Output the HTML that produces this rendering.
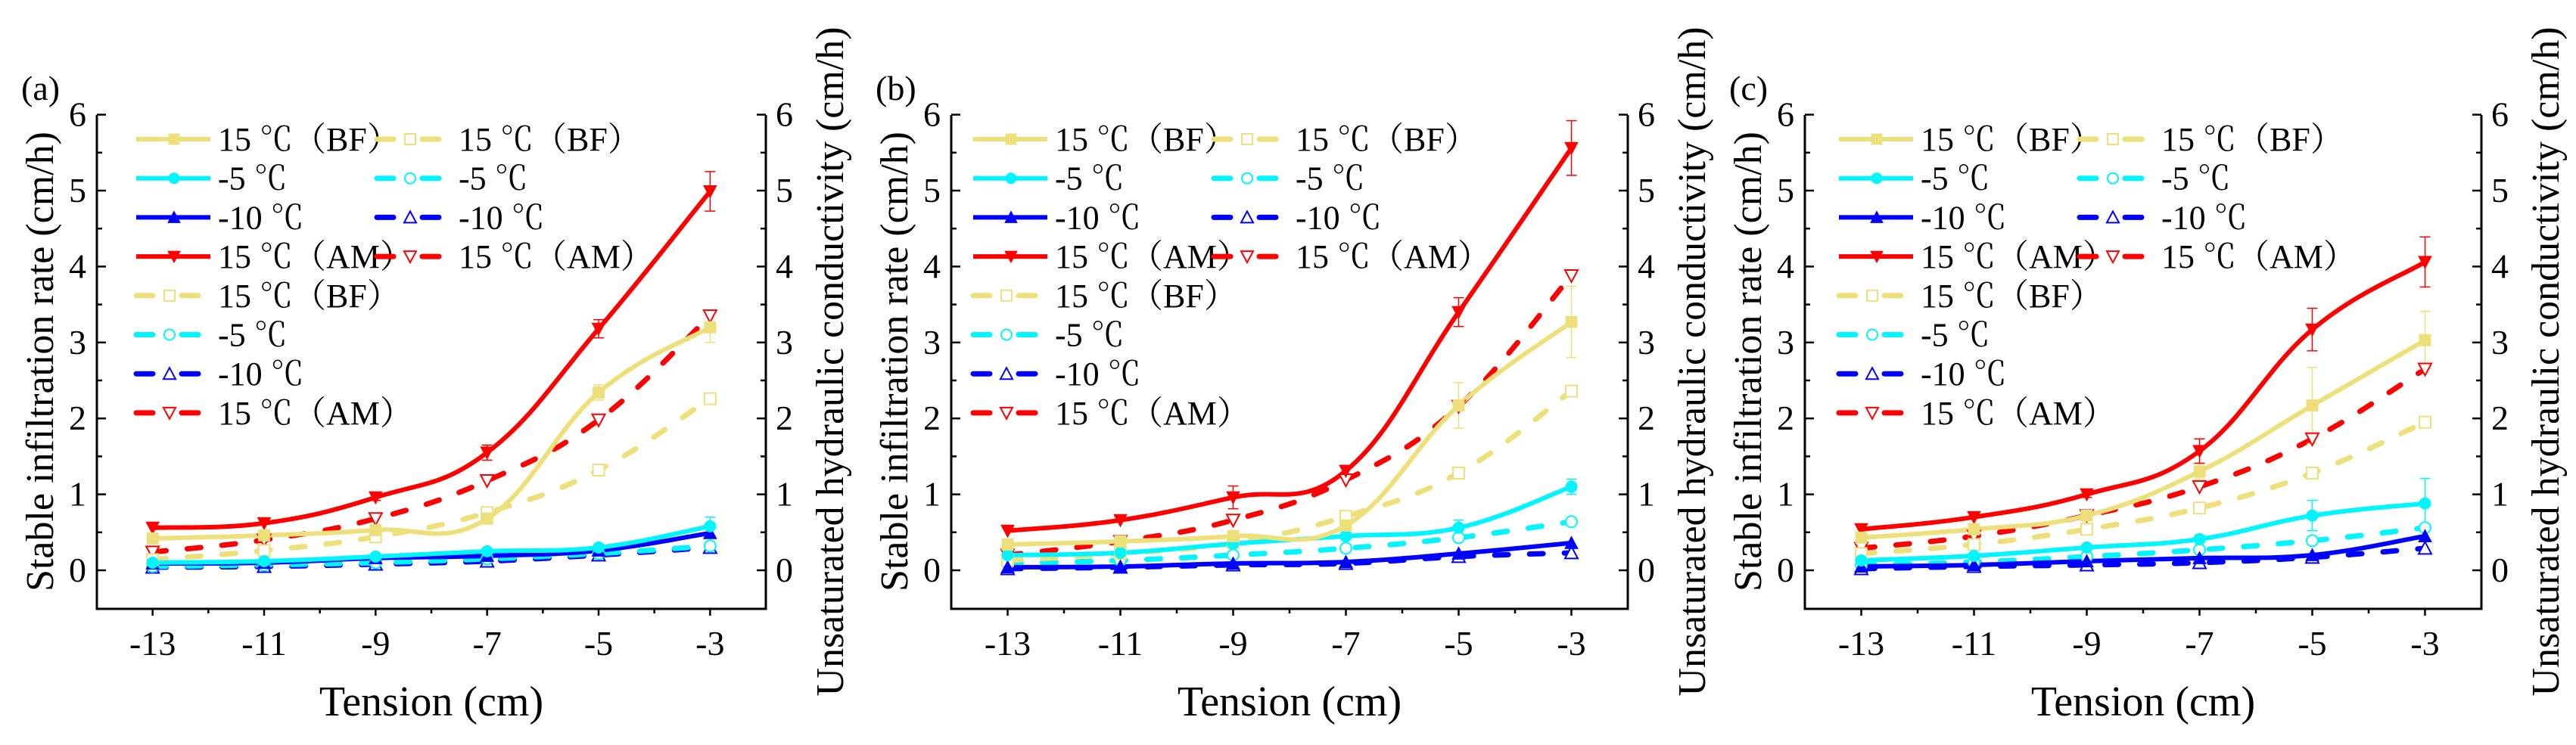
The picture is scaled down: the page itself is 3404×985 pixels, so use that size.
<!DOCTYPE html>
<html><head><meta charset="utf-8">
<style>
html,body{margin:0;padding:0;background:#fff;}
svg{display:block;}
svg text{font-family:"Liberation Serif","Times New Roman","Noto Serif CJK SC",serif;}
</style></head>
<body>
<svg id="chart" width="3404" height="985" viewBox="0 0 3404 985" xmlns="http://www.w3.org/2000/svg" font-family="Liberation Serif, Noto Serif CJK SC, serif"></svg>
<script>
const tensions = [-13, -11, -9, -7, -5, -3];
const xTickLabels = ["-13", "-11", "-9", "-7", "-5", "-3"];
const yTickLabels = ["0", "1", "2", "3", "4", "5", "6"];
const panelLabels = ["(a)", "(b)", "(c)"];
const legendLabels = ["15 ℃（BF）", "-5 ℃", "-10 ℃", "15 ℃（AM）"];

// Panel (a)
const aBF = [0.42, 0.46, 0.53, 0.68, 2.34, 3.2];
const aM5 = [0.1, 0.12, 0.18, 0.25, 0.3, 0.58];
const aM10 = [0.09, 0.1, 0.16, 0.19, 0.26, 0.49];
const aAM = [0.56, 0.62, 0.96, 1.55, 3.18, 4.99];
const aBFd = [0.14, 0.26, 0.44, 0.76, 1.32, 2.26];
const aM5d = [0.05, 0.07, 0.1, 0.15, 0.22, 0.32];
const aM10d = [0.04, 0.05, 0.08, 0.12, 0.2, 0.3];
const aAMd = [0.24, 0.4, 0.68, 1.18, 1.98, 3.35];
const aAMerr = [0, 0, 0.04, 0.1, 0.12, 0.26];
const aBFerr = [0, 0, 0, 0, 0.1, 0.2];
const aM5err = [0, 0, 0, 0.04, 0.03, 0.12];
// Panel (b)
const bBF = [0.34, 0.38, 0.45, 0.59, 2.17, 3.27];
const bM5 = [0.2, 0.23, 0.35, 0.45, 0.56, 1.1];
const bM10 = [0.04, 0.05, 0.09, 0.11, 0.22, 0.36];
const bAM = [0.52, 0.66, 0.96, 1.31, 3.4, 5.56];
const bBFd = [0.13, 0.22, 0.36, 0.71, 1.28, 2.36];
const bM5d = [0.09, 0.13, 0.2, 0.29, 0.43, 0.64];
const bM10d = [0.02, 0.04, 0.07, 0.09, 0.18, 0.23];
const bAMd = [0.2, 0.38, 0.66, 1.19, 2.16, 3.88];
const bAMerr = [0, 0, 0.15, 0.06, 0.19, 0.36];
const bBFerr = [0, 0, 0, 0, 0.3, 0.47];
const bM5err = [0, 0, 0, 0.05, 0.1, 0.1];
// Panel (c)
const cBF = [0.43, 0.54, 0.72, 1.3, 2.17, 3.03];
const cM5 = [0.13, 0.19, 0.3, 0.41, 0.72, 0.88];
const cM10 = [0.05, 0.07, 0.12, 0.16, 0.2, 0.45];
const cAM = [0.54, 0.7, 1.0, 1.57, 3.17, 4.06];
const cBFd = [0.22, 0.34, 0.54, 0.82, 1.28, 1.95];
const cM5d = [0.07, 0.11, 0.18, 0.27, 0.39, 0.56];
const cM10d = [0.02, 0.05, 0.07, 0.1, 0.17, 0.29];
const cAMd = [0.29, 0.45, 0.72, 1.1, 1.73, 2.65];
const cAMerr = [0, 0, 0.04, 0.16, 0.28, 0.33];
const cBFerr = [0, 0, 0, 0.1, 0.5, 0.38];
const cM5err = [0, 0, 0, 0.05, 0.2, 0.33];

const NS = "http://www.w3.org/2000/svg";
const svg = document.getElementById("chart");
const FONT = '"Liberation Serif", "Noto Serif CJK SC", serif';
function mk(tag, attrs, parent) {
  const e = document.createElementNS(NS, tag);
  for (const k in attrs) e.setAttribute(k, attrs[k]);
  if (tag === "text") e.setAttribute("font-family", FONT);
  (parent || svg).appendChild(e);
  return e;
}
const YELLOW = "#EDE07A", CYAN = "#00F5FF", BLUE = "#0000FF", RED = "#FF0000";

function smoothPath(pts) {
  let d = "M" + pts[0][0] + "," + pts[0][1];
  for (let i = 0; i < pts.length - 1; i++) {
    const p0 = pts[Math.max(0, i - 1)], p1 = pts[i], p2 = pts[i + 1], p3 = pts[Math.min(pts.length - 1, i + 2)];
    const t = 0.2;
    const c1 = [p1[0] + (p2[0] - p0[0]) * t, p1[1] + (p2[1] - p0[1]) * t];
    const c2 = [p2[0] - (p3[0] - p1[0]) * t, p2[1] - (p3[1] - p1[1]) * t];
    d += " C" + c1[0] + "," + c1[1] + " " + c2[0] + "," + c2[1] + " " + p2[0] + "," + p2[1];
  }
  return d;
}
function marker(g, type, filled, color, x, y, s) {
  const fill = filled ? color : "#fff";
  const sw = filled ? 1 : 2;
  let e;
  if (type === "square") e = mk("rect", {x: x - s / 2, y: y - s / 2, width: s, height: s, fill: fill, stroke: color, "stroke-width": sw}, g);
  else if (type === "circle") e = mk("circle", {cx: x, cy: y, r: s / 2, fill: fill, stroke: color, "stroke-width": sw}, g);
  else if (type === "up") e = mk("polygon", {points: `${x},${y - s / 2 - 1} ${x - s / 2 - 1},${y + s / 2} ${x + s / 2 + 1},${y + s / 2}`, fill: fill, stroke: color, "stroke-width": sw}, g);
  else e = mk("polygon", {points: `${x},${y + s / 2 + 1} ${x - s / 2 - 1},${y - s / 2} ${x + s / 2 + 1},${y - s / 2}`, fill: fill, stroke: color, "stroke-width": sw}, g);
  return e;
}

const panels = [
  {off: 128, right: 1012, legX: 52, data: [aBF, aM5, aM10, aAM, aBFd, aM5d, aM10d, aAMd], err: [aBFerr, aM5err, aAMerr]},
  {off: 1257, right: 2151, legX: 29, data: [bBF, bM5, bM10, bAM, bBFd, bM5d, bM10d, bAMd], err: [bBFerr, bM5err, bAMerr]},
  {off: 2385, right: 3279, legX: 45, data: [cBF, cM5, cM10, cAM, cBFd, cM5d, cM10d, cAMd], err: [cBFerr, cM5err, cAMerr]}
];
const seriesColors = [YELLOW, CYAN, BLUE, RED, YELLOW, CYAN, BLUE, RED];
const seriesMarkers = ["square", "circle", "up", "down", "square", "circle", "up", "down"];
const seriesNames = ["bf-solid", "m5-solid", "m10-solid", "am-solid", "bf-dashed", "m5-dashed", "m10-dashed", "am-dashed"];
const TOP = 152, BOT = 805;

panels.forEach((P, pi) => {
  const L = P.off, R = P.right;
  const xs = v => L + (v + 14) / 12 * (R - L);
  const ys = v => 754 - v * 100.4;
  const g = mk("g", {});
  
  

  const ax = mk("path", {d: `M${L},${TOP} V${BOT} H${R} V${TOP}`, fill: "none", stroke: "#000", "stroke-width": 3}, g);
  
  

  for (let v = -0.5; v <= 6.01; v += 0.5) {
    const y = ys(v);
    const major = Math.abs(v - Math.round(v)) < 0.01 && v >= 0;
    const len = major ? 12 : 7;
    if (Math.abs(y - BOT) < 1) continue;
    mk("line", {x1: L, x2: L + len, y1: y, y2: y, stroke: "#000", "stroke-width": 2.5}, g);
    mk("line", {x1: R, x2: R - len, y1: y, y2: y, stroke: "#000", "stroke-width": 2.5}, g);
  }
  yTickLabels.forEach((lab, i) => {
    const t = mk("text", {x: L - 14, y: ys(i) + 15, "text-anchor": "end", "font-size": 46}, g);
    t.textContent = lab;
    
    
    const t2 = mk("text", {x: R + 13, y: ys(i) + 15, "text-anchor": "start", "font-size": 46}, g);
    t2.textContent = lab;
    
    
  });
  for (let v = -13; v <= -3; v += 1) {
    mk("line", {x1: xs(v), x2: xs(v), y1: BOT, y2: BOT + ((v % 2) ? 9 : 6), stroke: "#000", "stroke-width": 2.5}, g);
  }
  tensions.forEach((v, i) => {
    const t = mk("text", {x: xs(v), y: 866, "text-anchor": "middle", "font-size": 46}, g);
    t.textContent = xTickLabels[i];
    
    
  });
  const xt = mk("text", {x: (L + R) / 2, y: 946, "text-anchor": "middle", "font-size": 56}, g);
  xt.textContent = "Tension (cm)";
  
  
  const yt = mk("text", {x: 0, y: 0, "text-anchor": "middle", "font-size": 52, transform: `translate(${L - 58},${478}) rotate(-90)`}, g);
  yt.textContent = "Stable infiltration rate (cm/h)";
  
  
  const yt2 = mk("text", {x: 0, y: 0, "text-anchor": "middle", "font-size": 52, transform: `translate(${R + 102},${478}) rotate(-90)`}, g);
  yt2.textContent = "Unsaturated hydraulic conductivity (cm/h)";
  
  
  const pl = mk("text", {x: L - 100, y: 132, "font-size": 46}, g);
  pl.textContent = panelLabels[pi];
  
  

  [7, 6, 5, 4, 3, 2, 1, 0].forEach(si => {
    const vals = P.data[si];
    const pts = tensions.map((v, i) => [xs(v), ys(vals[i])]);
    const dashed = si >= 4;
    const p = mk("path", {d: smoothPath(pts), fill: "none", stroke: seriesColors[si], "stroke-width": dashed ? 7 : 6, "stroke-dasharray": dashed ? "18 28" : "none", "stroke-linecap": dashed ? "round" : "butt"}, g);
    
    
  });
  const errMap = [[0, P.err[0]], [1, P.err[1]], [3, P.err[2]]];
  errMap.forEach(([si, errs]) => {
    tensions.forEach((v, i) => {
      if (!errs[i]) return;
      const x = xs(v), y1 = ys(P.data[si][i] + errs[i]), y2 = ys(P.data[si][i] - errs[i]);
      const eb = mk("path", {d: `M${x},${y1} V${y2} M${x - 7},${y1} H${x + 7} M${x - 7},${y2} H${x + 7}`, stroke: seriesColors[si], "stroke-width": 1.5, fill: "none"}, g);
      
      
    });
  });
  [7, 6, 5, 4, 3, 2, 1, 0].forEach(si => {
    tensions.forEach((v, i) => {
      const m = marker(g, seriesMarkers[si], si < 4, seriesColors[si], xs(v), ys(P.data[si][i]), 15);
      
      
    });
  });

  const lg = mk("g", {}, g);
  
  
  const rows = [];
  for (let k = 0; k < 4; k++) rows.push({si: k, col: 0, row: k});
  for (let k = 0; k < 4; k++) rows.push({si: 4 + k, col: 1, row: k});
  for (let k = 0; k < 4; k++) rows.push({si: 4 + k, col: 0, row: 4 + k});
  rows.forEach(r => {
    const x0 = L + P.legX + r.col * 318;
    const y = 184 + r.row * 51.7;
    const si = r.si, dashed = si >= 4, c = seriesColors[si];
    const e = mk("g", {}, lg);
    
    
    if (!dashed) {
      mk("line", {x1: x0, x2: x0 + 98, y1: y, y2: y, stroke: c, "stroke-width": 6}, e);
      marker(e, seriesMarkers[si], true, c, x0 + 50, y, 14);
    } else {
      mk("line", {x1: x0, x2: x0 + 22, y1: y, y2: y, stroke: c, "stroke-width": 7, "stroke-linecap": "round"}, e);
      mk("line", {x1: x0 + 60, x2: x0 + 82, y1: y, y2: y, stroke: c, "stroke-width": 7, "stroke-linecap": "round"}, e);
      marker(e, seriesMarkers[si], false, c, x0 + 44, y, 14);
    }
    const t = mk("text", {x: x0 + 108, y: y + 15, "font-size": 44}, e);
    t.textContent = legendLabels[si % 4];
  });
});
</script>
</body></html>
